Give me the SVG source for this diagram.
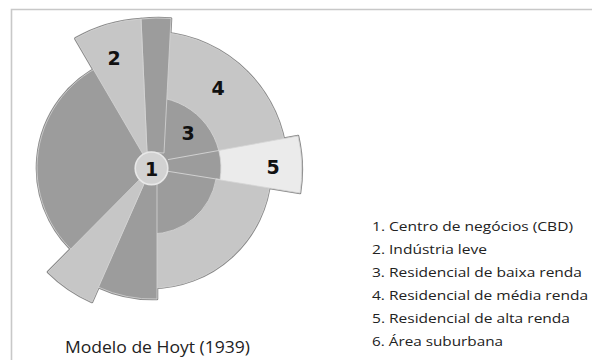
<svg xmlns="http://www.w3.org/2000/svg" xmlns:xlink="http://www.w3.org/1999/xlink" width="592" height="360" viewBox="0 0 592 360">
<style>
.dk{fill:#9c9c9c}
.lt{fill:#c6c6c6}
.vl{fill:#ebebeb}
.ol{fill:none;stroke:#8a8a8a;stroke-width:2.6;stroke-linejoin:round}
.in{stroke:#d6d6d6;stroke-width:0.8;stroke-linejoin:round}
.num{font-family:"DejaVu Sans",sans-serif;font-weight:bold;font-size:19px;fill:#111;text-anchor:middle}
.leg{font-family:"Open Sans","Liberation Sans",sans-serif;font-size:13.5px;fill:#222}
.cap{font-family:"Open Sans","Liberation Sans",sans-serif;font-size:16px;fill:#222}
.fr{stroke:#c8c8c8;stroke-width:1.6;fill:none}
</style>
<defs>
<path id="pBig" d="M151,168 L85.6,261.4 A114,114 0 0 1 102.8,64.7 Z"/>
<path id="pLow4" d="M151,168 L270.5,178.5 A120,120 0 0 1 151,288 Z"/>
<path id="pUp4" d="M151,168 L162.9,32.5 A136,136 0 0 1 286.5,156.1 Z"/>
<path id="p3" d="M151,168 L157.2,97.3 A71,71 0 0 1 220,179.6 L216.1,178.9 A66,66 0 0 1 151,234 Z"/>
<path id="p5" d="M210,152 L298,136 A150,150 0 0 1 300,193 L210,178.3 Z"/>
<path id="pNar" d="M147,152 L141,19 A150,150 0 0 1 171,18.5 L164,153 Z"/>
<path id="p2" d="M151,168 L75.3,38.5 A149.5,149.5 0 0 1 141,19 L147,152 Z"/>
<path id="pBot" d="M157,168 L157,299 A131,131 0 0 1 98,287 L151,168 Z"/>
<path id="pLL" d="M151,168 L92,302 A146,146 0 0 1 48,272 Z"/>
</defs>
<path class="fr" d="M11.5,360 L11.5,9.5 L592,9.5"/>
<g id="outline">
<use xlink:href="#pBig" class="ol"/>
<use xlink:href="#pLow4" class="ol"/>
<use xlink:href="#pUp4" class="ol"/>
<use xlink:href="#p5" class="ol"/>
<use xlink:href="#pNar" class="ol"/>
<use xlink:href="#p2" class="ol"/>
<use xlink:href="#pBot" class="ol"/>
<use xlink:href="#pLL" class="ol"/>
</g>
<g id="setor-6"><use xlink:href="#pBig" class="dk in"/></g>
<g id="node-4"><use xlink:href="#pLow4" class="lt in"/><use xlink:href="#pUp4" class="lt in"/>
<text class="num" x="218" y="95">4</text></g>
<g id="node-5"><use xlink:href="#p5" class="vl in"/>
<text class="num" x="273" y="174">5</text></g>
<g id="node-3"><use xlink:href="#p3" class="dk in"/>
<text class="num" x="188" y="140">3</text></g>
<g id="setor-estreito"><use xlink:href="#pNar" class="dk in"/></g>
<g id="node-2"><use xlink:href="#p2" class="lt in"/>
<text class="num" x="114" y="65">2</text></g>
<g id="setor-inferior"><use xlink:href="#pBot" class="dk in"/></g>
<g id="setor-inferior-esq"><use xlink:href="#pLL" class="lt in"/></g>
<g id="linhas-internas" stroke="#d6d6d6" stroke-width="0.9" fill="none">
<path d="M168,159.6 L220.5,150.2 M168,171.3 L220,179.6"/>
</g>
<g id="node-1">
<circle cx="151.5" cy="168.3" r="16.3" fill="#d2d2d2" stroke="#e8e8e8" stroke-width="1.6"/>
<text class="num" x="151.5" y="175.5">1</text></g>
<g id="legenda">
<text class="leg" x="372" y="231" textLength="201" lengthAdjust="spacingAndGlyphs">1. Centro de negócios (CBD)</text>
<text class="leg" x="372" y="254" textLength="115" lengthAdjust="spacingAndGlyphs">2. Indústria leve</text>
<text class="leg" x="372" y="277" textLength="210" lengthAdjust="spacingAndGlyphs">3. Residencial de baixa renda</text>
<text class="leg" x="372" y="300" textLength="216" lengthAdjust="spacingAndGlyphs">4. Residencial de média renda</text>
<text class="leg" x="372" y="323" textLength="198" lengthAdjust="spacingAndGlyphs">5. Residencial de alta renda</text>
<text class="leg" x="372" y="346" textLength="131" lengthAdjust="spacingAndGlyphs">6. Área suburbana</text>
</g>
<text class="cap" x="65" y="353" textLength="185" lengthAdjust="spacingAndGlyphs">Modelo de Hoyt (1939)</text>
</svg>
